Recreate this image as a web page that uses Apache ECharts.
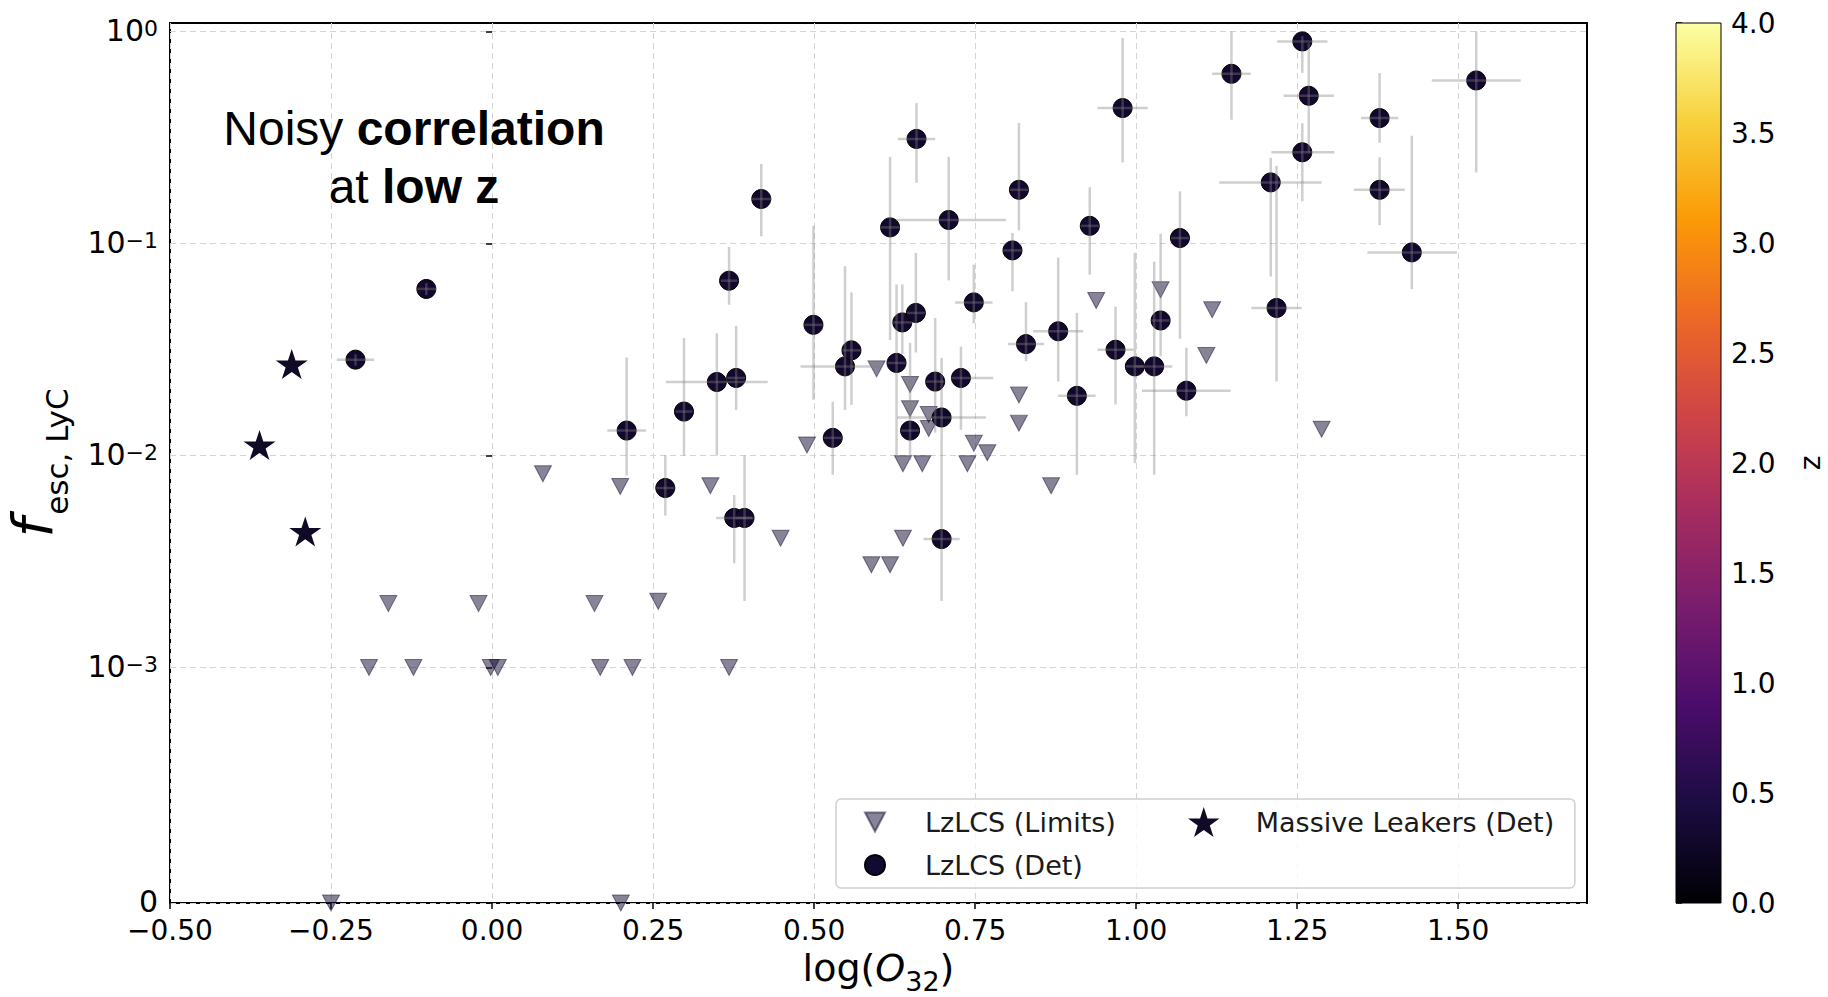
<!DOCTYPE html>
<html><head><meta charset="utf-8">
<script src="https://cdn.jsdelivr.net/npm/echarts@6/dist/echarts.min.js"></script>
<style>html,body{margin:0;padding:0;background:#fff}#c{width:1828px;height:997px}</style>
</head><body><div id="c"></div>
<script>
// ---------- data ----------
const detX   = [-0.212,-0.102,0.209,0.269,0.298,0.349,0.379,0.368,0.376,0.392,0.418,0.499,0.529,0.548,0.558,0.618,0.628,0.637,0.658,0.649,0.659,0.688,0.698,0.698,0.709,0.728,0.748,0.808,0.818,0.829,0.879,0.908,0.928,0.968,0.979,0.998,1.028,1.038,1.068,1.078,1.148,1.209,1.218,1.258,1.258,1.268,1.378,1.378,1.428,1.528];
const detF   = [0.0283,0.061,0.0131,0.00702,0.0161,0.0222,0.0232,0.0667,0.00507,0.00507,0.162,0.0413,0.0121,0.0263,0.0313,0.119,0.0273,0.0424,0.047,0.0131,0.311,0.0223,0.0151,0.00403,0.129,0.0232,0.0527,0.0927,0.179,0.0335,0.0385,0.0191,0.121,0.0315,0.435,0.0263,0.0263,0.0433,0.106,0.0202,0.631,0.194,0.0496,0.897,0.269,0.497,0.390,0.179,0.0907,0.587];
const detXLo = [-0.241,-0.117,0.179,0.255,0.285,0.270,0.365,0.355,0.348,0.378,0.402,0.485,0.515,0.479,0.544,0.603,0.614,0.622,0.644,0.635,0.630,0.674,0.629,0.670,0.627,0.712,0.719,0.794,0.804,0.801,0.840,0.879,0.914,0.940,0.940,0.984,1.000,1.024,1.054,1.009,1.118,1.129,1.179,1.219,1.210,1.229,1.349,1.338,1.359,1.459];
const detXHi = [-0.183,-0.087,0.239,0.283,0.311,0.428,0.393,0.381,0.404,0.406,0.434,0.513,0.543,0.606,0.572,0.633,0.642,0.652,0.672,0.663,0.688,0.702,0.767,0.726,0.798,0.778,0.777,0.822,0.832,0.857,0.918,0.937,0.942,0.996,1.018,1.012,1.056,1.052,1.082,1.147,1.178,1.288,1.257,1.297,1.308,1.307,1.407,1.417,1.498,1.597];
const detFLo = [0.0265,0.057,0.00805,0.0052,0.0100,0.0100,0.0164,0.0514,0.0031,0.00206,0.108,0.0183,0.0081,0.0164,0.0173,0.035,0.0100,0.030,0.0306,0.0095,0.193,0.0128,0.0072,0.00206,0.0669,0.0132,0.042,0.0594,0.115,0.0278,0.0223,0.0081,0.0712,0.0174,0.241,0.0092,0.0081,0.0294,0.0355,0.0153,0.383,0.0698,0.0223,0.637,0.158,0.268,0.298,0.122,0.0609,0.216];
const detFHi = [0.0300,0.065,0.029,0.0100,0.0358,0.0377,0.0408,0.0962,0.0065,0.0100,0.237,0.121,0.0179,0.0781,0.0587,0.256,0.064,0.064,0.0901,0.034,0.459,0.0445,0.0288,0.0072,0.256,0.0326,0.0794,0.112,0.370,0.0528,0.0857,0.047,0.184,0.0503,0.931,0.0902,0.082,0.111,0.176,0.0322,1.0,0.253,0.232,0.95,0.369,0.88,0.636,0.255,0.322,1.0];
const detZ   = [0.3,0.3,0.3,0.3,0.3,0.3,0.3,0.3,0.3,0.3,0.3,0.3,0.3,0.3,0.3,0.3,0.3,0.3,0.3,0.3,0.3,0.3,0.3,0.3,0.3,0.3,0.3,0.3,0.3,0.3,0.3,0.3,0.3,0.3,0.3,0.3,0.3,0.3,0.3,0.3,0.3,0.3,0.3,0.3,0.3,0.3,0.3,0.3,0.3,0.3];

const limX = [-0.25,-0.191,-0.161,-0.122,-0.021,-0.002,0.009,0.079,0.159,0.168,0.199,0.200,0.218,0.258,0.339,0.368,0.448,0.489,0.589,0.597,0.618,0.638,0.638,0.649,0.649,0.668,0.678,0.678,0.738,0.748,0.769,0.818,0.818,0.868,0.938,1.038,1.109,1.118,1.288];
const limF = [0,0.001,0.002,0.001,0.002,0.001,0.001,0.0082,0.002,0.001,0.00714,0,0.001,0.00205,0.0072,0.001,0.00407,0.0112,0.00305,0.0256,0.00305,0.00914,0.00407,0.0216,0.0166,0.00914,0.0156,0.0134,0.00914,0.0114,0.0103,0.0193,0.0142,0.0072,0.0538,0.0605,0.0296,0.0487,0.0133];
const limZ = [0.3,0.3,0.3,0.3,0.3,0.3,0.3,0.3,0.3,0.3,0.3,0.3,0.3,0.3,0.3,0.3,0.3,0.3,0.3,0.3,0.3,0.3,0.3,0.3,0.3,0.3,0.3,0.3,0.3,0.3,0.3,0.3,0.3,0.3,0.3,0.3,0.3,0.3,0.3];

const mlX = [-0.311,-0.361,-0.290];
const mlF = [0.027,0.0112,0.00438];
const mlZ = [0.3,0.3,0.3];

const xTicks = [-0.5,-0.25,0,0.25,0.5,0.75,1.0,1.25,1.5];
const yTickF = [0,0.001,0.01,0.1,1];
const yTickText = ['{z|0}','{b|10}{e|\u22123}','{b|10}{e|\u22122}','{b|10}{e|\u22121}','{b|10}{e|0}'];
const cbTicks = [0,0.5,1,1.5,2,2.5,3,3.5,4];
const inferno = ['#000004','#1b0c41','#4a0c6b','#781c6d','#a52c60','#cf4446','#ed6925','#fb9b06','#f7d13d','#fcffa4'];

// ---------- symlog transform (linthresh 1e-3, linscale 1) ----------
const LT = 1e-3, LIN = 1/(1-0.1);
function toT(f){ return f <= LT ? f/LT*LIN : LIN + Math.log10(f/LT); }
const yMax = toT(1) + 0.0396;

const FONT = 'DejaVu Sans';
const detData = detX.map((x,i)=>[x, toT(detF[i]), detZ[i]]);
const limData = limX.map((x,i)=>[x, toT(limF[i]), limZ[i]]);
const mlData  = mlX.map((x,i)=>[x, toT(mlF[i]), mlZ[i]]);
const errData = detX.map((x,i)=>[x, toT(detF[i]), detXLo[i], detXHi[i], toT(detFLo[i]), toT(detFHi[i])]);

const STAR = 'path://M100,0 L122.45,69.1 L195.11,69.1 L136.33,111.8 L158.78,180.9 L100,138.2 L41.22,180.9 L63.67,111.8 L4.89,69.1 L77.55,69.1 Z';
const TRI_DOWN = 'path://M0,0 L20,0 L10,19 Z';

function renderErr(params, api){
  const x = api.value(0), y = api.value(1);
  const c = api.coord([x,y]);
  const l = api.coord([api.value(2), y]);
  const r = api.coord([api.value(3), y]);
  const b = api.coord([x, api.value(4)]);
  const t = api.coord([x, api.value(5)]);
  const st = {stroke:'rgba(128,128,128,0.38)', lineWidth:2.5};
  return {type:'group', children:[
    {type:'line', shape:{x1:l[0],y1:c[1],x2:r[0],y2:c[1]}, style:st},
    {type:'line', shape:{x1:c[0],y1:t[1],x2:c[0],y2:b[1]}, style:st}
  ]};
}
function renderBar(params, api){
  const p0 = api.coord([0, 4]);
  const p1 = api.coord([1, 0]);
  const stops = inferno.map((c,i)=>({offset:i/(inferno.length-1), color:c}));
  return {type:'rect', shape:{x:p0[0], y:p0[1], width:p1[0]-p0[0], height:p1[1]-p0[1]},
    style:{fill:new echarts.graphic.LinearGradient(0,1,0,0,stops), stroke:'#000', lineWidth:1}};
}

const chart = echarts.init(document.getElementById('c'), null, {renderer:'svg'});
const tickLabel = {fontFamily:FONT, fontSize:28, color:'#000'};
chart.setOption({
  animation:false,
  backgroundColor:'#fff',
  grid:[
    {left:170, right:241, top:23, bottom:94, show:true, borderColor:'#000', borderWidth:2, containLabel:false, outerBoundsMode:'none'},
    {left:1676, width:45, top:23, height:880, show:false, containLabel:false, outerBoundsMode:'none'}
  ],
  xAxis:[
    {type:'value', gridIndex:0, min:-0.5, max:1.7,
     axisLine:{show:false},
     axisTick:{show:true, customValues:xTicks, length:6, lineStyle:{color:'#000', width:1.5}},
     axisLabel:Object.assign({customValues:xTicks, margin:13, lineHeight:28,
       formatter:v=>(v<0?'\u2212':'')+Math.abs(v).toFixed(2)}, tickLabel),
     splitLine:{show:true, lineStyle:{type:[6,4], color:'#d4d4d4', width:1}},
     name:'{a|log(}{o|O}{s|32}{a|)}', nameLocation:'middle', nameGap:44,
     nameTextStyle:{rich:{
       a:{fontFamily:FONT, fontSize:38, color:'#000', verticalAlign:'bottom', padding:[0,0,8,0]},
       o:{fontFamily:FONT, fontSize:38, fontStyle:'italic', color:'#000', verticalAlign:'bottom', padding:[0,0,8,0]},
       s:{fontFamily:FONT, fontSize:27, color:'#000', verticalAlign:'bottom'}
     }}},
    {type:'value', gridIndex:1, min:0, max:1, show:false}
  ],
  yAxis:[
    {type:'value', gridIndex:0, min:0, max:yMax,
     axisLine:{show:false},
     axisTick:{show:true, customValues:yTickF.map(toT), length:6, lineStyle:{color:'#000', width:1.5}},
     axisLabel:{customValues:yTickF.map(toT), margin:12,
       formatter:function(v){ let k=0, d=1e9; yTickF.forEach((f,i)=>{const dd=Math.abs(toT(f)-v); if(dd<d){d=dd;k=i;}}); return yTickText[k]; },
       rich:{
         z:{fontFamily:FONT, fontSize:30, lineHeight:22, color:'#000', padding:[0,0,4,0]},
         b:{fontFamily:FONT, fontSize:30, lineHeight:28, color:'#000', verticalAlign:'bottom'},
         e:{fontFamily:FONT, fontSize:22, lineHeight:22, color:'#000', verticalAlign:'top'}
       }},
     splitLine:{show:true, lineStyle:{type:[6,4], color:'#d4d4d4', width:1}},
     name:'{f|f}{s|esc, LyC}', nameLocation:'middle', nameRotate:90, nameGap:98,
     nameTextStyle:{rich:{
       f:{fontFamily:FONT, fontSize:56, fontStyle:'italic', color:'#000', verticalAlign:'bottom', padding:[0,3,12,0]},
       s:{fontFamily:FONT, fontSize:31, color:'#000', verticalAlign:'bottom'}
     }}},
    {type:'value', gridIndex:1, min:0, max:4, interval:0.5, position:'right',
     axisLine:{show:true, lineStyle:{color:'#000', width:1}},
     axisTick:{show:true, length:6, lineStyle:{color:'#000', width:1.5}},
     axisLabel:Object.assign({margin:10, formatter:v=>v.toFixed(1)}, tickLabel),
     splitLine:{show:false},
     name:'z', nameLocation:'middle', nameRotate:90, nameGap:75,
     nameTextStyle:{fontFamily:FONT, fontSize:28, color:'#000'}}
  ],
  visualMap:{type:'continuous', show:false, min:0, max:4, dimension:2, seriesIndex:[0,1], inRange:{color:inferno}},
  legend:[
    {data:[{name:'LzLCS (Limits)', icon:TRI_DOWN},{name:'LzLCS (Det)'}], orient:'vertical', left:836, top:799, padding:[8,459,8,28],
     itemGap:13, itemWidth:20, itemHeight:20, selectedMode:false,
     textStyle:{fontFamily:FONT, fontSize:27, color:'#1a1a1a', lineHeight:30, padding:[0,0,0,35]},
     borderColor:'#d0d0d0', borderWidth:1.5, borderRadius:5, backgroundColor:'rgba(255,255,255,0.8)'},
    {data:['Massive Leakers (Det)'], orient:'vertical', left:1188, top:807, padding:0,
     itemWidth:32, itemHeight:30, selectedMode:false,
     textStyle:{fontFamily:FONT, fontSize:27, color:'#1a1a1a', lineHeight:30, padding:[0,0,0,31]}}
  ],
  graphic:[{type:'text', x:414, y:157, z:100,
    style:{text:'{n|Noisy }{b|correlation}\n{n|at }{b|low z}', align:'center', verticalAlign:'middle',
      rich:{
        n:{fontFamily:'Liberation Sans', fontSize:48, lineHeight:58, fill:'#000'},
        b:{fontFamily:'Liberation Sans', fontSize:48, lineHeight:58, fontWeight:'bold', fill:'#000'}
      }}}],
  series:[
    {name:'LzLCS (Limits)', type:'scatter', xAxisIndex:0, yAxisIndex:0, data:limData,
     symbol:'triangle', symbolRotate:180, symbolSize:[17,16],
     itemStyle:{color:'#120a30', opacity:0.5, borderColor:'#120a30', borderWidth:1}, z:2},
    {name:'LzLCS (Det)', type:'scatter', xAxisIndex:0, yAxisIndex:0, data:detData,
     symbol:'circle', symbolSize:19,
     itemStyle:{color:'#120a30', opacity:1, borderColor:'#000', borderWidth:1}, z:3},
    {name:'Massive Leakers (Det)', type:'scatter', xAxisIndex:0, yAxisIndex:0, data:mlData,
     symbol:STAR, symbolSize:[32,30],
     itemStyle:{color:'#100a26', opacity:1, borderWidth:0}, z:3},
    {name:'err', type:'custom', xAxisIndex:0, yAxisIndex:0, data:errData, renderItem:renderErr,
     clip:true, silent:true, z:4, encode:{x:0, y:1}},
    {name:'cbar', type:'custom', xAxisIndex:1, yAxisIndex:1, data:[[0,0]], renderItem:renderBar, silent:true, z:1}
  ]
});
</script>
</body></html>
